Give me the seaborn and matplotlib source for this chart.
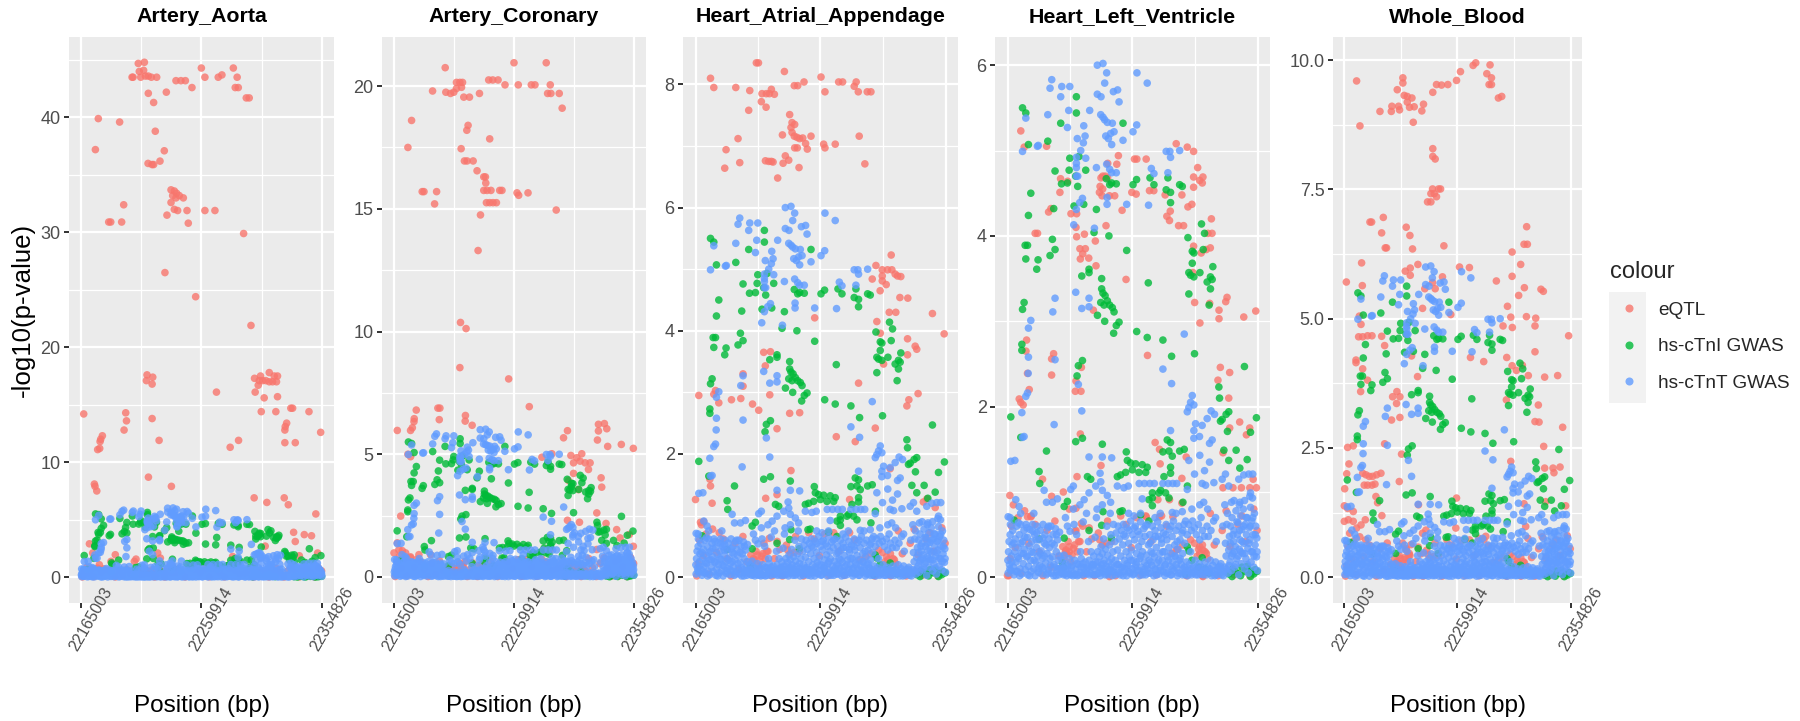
import matplotlib
matplotlib.use("Agg")
import matplotlib.pyplot as plt
from matplotlib.lines import Line2D
from matplotlib.patches import Rectangle
from matplotlib.transforms import ScaledTranslation
import pandas as pd
import seaborn as sns

# position values are kb after the first tick, -log10(p) second
BP_START = 22165003
X_TICKS = [22165003, 22259914, 22354826]
TISSUES = ["Artery_Aorta", "Artery_Coronary", "Heart_Atrial_Appendage", "Heart_Left_Ventricle", "Whole_Blood"]
SOURCES = ["eQTL", "hs-cTnI GWAS", "hs-cTnT GWAS"]
COLOURS = ["#F8766D", "#00BA38", "#619CFF"]

Y_TICKS = [[0, 10, 20, 30, 40], [0, 5, 10, 15, 20], [0, 2, 4, 6, 8], [0, 2, 4, 6], [0, 2.5, 5, 7.5, 10]]
Y_LABELS = [["0", "10", "20", "30", "40"], ["0", "5", "10", "15", "20"], ["0", "2", "4", "6", "8"],
            ["0", "2", "4", "6"], ["0.0", "2.5", "5.0", "7.5", "10.0"]]
Y_MINOR = [[5, 15, 25, 35, 45], [2.5, 7.5, 12.5, 17.5], [1, 3, 5, 7], [1, 3, 5], [1.25, 3.75, 6.25, 8.75]]
Y_LIMITS = [(-2.25, 47.0), (-1.06, 22.0), (-0.42, 8.77), (-0.30, 6.33), (-0.50, 10.45)]

# panels in pixels: left, right (same top and bottom for all)
PANEL_X = [(69, 334), (382, 646), (683, 958), (995, 1270), (1333, 1582)]
PANEL_TOP, PANEL_BOTTOM = 37, 603

# the GWAS hits are the same in every panel, only the y scale changes
CTNT_HIGH = [
    (11.4, 4.99), (13.9, 5.38), (22.7, 5.05), (23.4, 5.06), (30.6, 5.42), (32.3, 5.73), (33.6, 5.83), (40.4, 5.63),
    (41.2, 5.75), (47.3, 5.75), (46.5, 5.47), (45.5, 5.27), (53, 5.14), (58.9, 5.17), (57.9, 5.29), (57.6, 5.09),
    (62.4, 5.47), (68.2, 6.0), (72.5, 6.02), (75.3, 5.91), (73.8, 5.79), (68.2, 5.66), (71, 5.63), (80.4, 5.69),
    (83.6, 5.71), (84.7, 5.57), (70.8, 5.42), (72.5, 5.39), (73.8, 5.36), (75.8, 5.33), (79.6, 5.32), (80.9, 5.22),
    (78.3, 5.2), (74.6, 5.17), (76.6, 5.14), (79.1, 5.07), (87.7, 5.12), (95.3, 5.22), (98.1, 5.3), (98.3, 5.91),
    (106.1, 5.79), (120.5, 4.99), (123.3, 4.99), (123.8, 4.92), (130.7, 5.0), (59.4, 4.91), (52.3, 4.92), (52.3, 4.85),
    (52.3, 4.8), (52.3, 4.7), (53.3, 4.7), (55.6, 5.0), (67.5, 4.8), (75.3, 4.84), (77.6, 4.78), (79.1, 4.74),
    (82.6, 4.74), (109.2, 4.79), (111.2, 4.73), (121.8, 4.74), (90.5, 4.37), (107.1, 4.36), (75.6, 4.45), (75.6, 4.37),
    (56.9, 4.44), (54.8, 4.39), (52.3, 4.31), (50.3, 4.13), (66, 4.09), (17.7, 3.01), (15.9, 2.92), (36.1, 3.27),
    (34.4, 3.11), (51.8, 3.34), (56.4, 3.15), (61.9, 3.27), (61.9, 3.17), (36.1, 2.55), (15.9, 2.58), (15.7, 2.39),
    (15.2, 2.16), (13.9, 2.12), (10.9, 1.93), (35.4, 1.79), (53.8, 2.26), (56.4, 1.95), (134.2, 2.85), (118, 2.44),
    (124.6, 2.27), (12.6, 1.65), (11.4, 1.64), (2.5, 1.36), (5.6, 1.37), (61.9, 1.41), (72, 1.41), (79.1, 1.4),
    (123.8, 1.72), (140.3, 2.13), (139, 2.05), (137.7, 1.99), (136.5, 1.94), (141.5, 2.02), (142.8, 1.8), (141.5, 1.72),
    (141.5, 1.63), (145.8, 1.65), (151.6, 1.86), (154.6, 1.95), (157.2, 1.91), (147.8, 1.78), (155.4, 1.61), (153.4, 1.57),
    (146, 1.43), (153.4, 1.35), (137.7, 1.37), (149.6, 1.25), (142, 1.21), (156.7, 1.11), (147.8, 1.1), (150.4, 1.08),
    (136.5, 1.03), (175.6, 1.15), (179.4, 1.2), (183.2, 1.21), (186.2, 1.21), (163, 1.15), (168, 1.07), (165.5, 1.21),
    (100, 1.1), (104, 1.1), (108, 1.1), (111.5, 1.1), (118, 1.1), (122, 1.1), (125.5, 1.1), (128.5, 1.1),
    (83.4, 1.07), (88.4, 1.05), (91.7, 1.07), (70.3, 1.22), (70.8, 1.12), (67, 1.07), (72, 1.02), (75.8, 0.96),
    (78.3, 0.88), (61.9, 0.99), (58.2, 0.91), (50, 1.07), (48, 1.03), (27.8, 1.02), (29.6, 0.88), (34.1, 0.88),
    (37.9, 0.92), (6.3, 0.91), (8.8, 0.83), (0.5, 0.71), (102.3, 0.92), (125.1, 0.76), (132.7, 0.77), (135.2, 0.66),
    (149, 0.88), (170, 0.88), (176.5, 0.88), (184.5, 0.99), (186, 0.93),
]
CTNT_LOW = [
    (0.5, .05), (0.8, .3), (1.2, .42), (1.5, .15), (2, .5), (2.5, .08), (3, .25), (3.5, .38), (4, .55), (4.5, .12),
    (5, .03), (5.5, .3), (6, .45), (6.5, .18), (7, .6), (7.5, .07), (8, .35), (8.5, .22), (9, .5), (9.5, .1),
    (10, .62), (10.5, .28), (11, .04), (11.5, .42), (12, .16), (12.5, .55), (13, .33), (13.5, .09), (14, .62), (14.5, .24),
    (15, .47), (15.5, .03), (16, .13), (16.5, .37), (17, .56), (17.5, .2), (18, .07), (18.5, .42), (19, .62), (19.5, .29),
    (20, .1), (20.5, .5), (21, .02), (21.5, .18), (22, .35), (22.5, .6), (23, .25), (23.5, .06), (24, .44), (24.5, .14),
    (25, .55), (25.5, .31), (26, .04), (26.5, .22), (27, .62), (27.5, .1), (28, .4), (28.5, .5), (29, .17), (29.5, .03),
    (30, .28), (30.5, .58), (31, .09), (31.5, .45), (32, .35), (32.5, .14), (33, .6), (33.5, .05), (34, .24), (34.5, .5),
    (35, .02), (35.5, .38), (36, .12), (36.5, .57), (37, .3), (37.5, .07), (38, .44), (38.5, .2), (39, .03), (39.5, .53),
    (40, .11), (41, .05), (41.5, .2), (42, .1), (43, .26), (43.5, .04), (44, .16), (45, .02), (45.5, .6), (46, .09),
    (47, .22), (47.5, .54), (48, .03), (49, .14), (50, .05), (50.5, .62), (51, .2), (52, .09), (52.5, .5), (53, .02),
    (54, .15), (55, .06), (55.5, .3), (56, .22), (57, .03), (57.5, .65), (58, .11), (59, .18), (60, .04), (61, .12),
    (61.5, .42), (62, .2), (63, .05), (63.5, .3), (64, .15), (65, .03), (65.5, .25), (66, .1), (66.5, .47), (67, .18),
    (67.5, .7), (68, .04), (68.5, .3), (69, .12), (70, .24), (70.5, .02), (71, .36), (71.5, .15), (72, .28), (72.5, .07),
    (73, .45), (73.5, .2), (74, .03), (74.5, .33), (75, .13), (75.5, .6), (76, .26), (76.5, .05), (77, .18), (77.5, .38),
    (78, .09), (78.5, .5), (79, .22), (79.5, .02), (80, .3), (80.5, .62), (81, .12), (81.5, .42), (82, .2), (82.5, .52),
    (83, .06), (83.5, .32), (84, .6), (84.5, .15), (85, .45), (85.5, .03), (86, .25), (86.5, .55), (87, .12), (87.5, .38),
    (88, .62), (88.5, .07), (89, .2), (89.5, .48), (90, .3), (90.5, .02), (91, .58), (91.5, .14), (92, .4), (92.5, .24),
    (93, .05), (93.5, .66), (94, .32), (94.5, .1), (95, .5), (95.5, .2), (96, .04), (96.5, .44), (97, .6), (97.5, .15),
    (98, .28), (98.5, .08), (99, .54), (99.5, .36), (100, .02), (100.5, .22), (101, .65), (101.5, .12), (102, .42), (102.5, .3),
    (103, .06), (103.5, .57), (104, .18), (104.5, .48), (105, .03), (105.5, .26), (106, .62), (106.5, .1), (107, .38), (107.5, .2),
    (108, .5), (108.5, .05), (109, .3), (109.5, .14), (110, .6), (110.5, .44), (111, .02), (111.5, .24), (112, .55), (112.5, .09),
    (113, .35), (113.5, .17), (114, .65), (114.5, .48), (115, .04), (115.5, .28), (116, .12), (116.5, .58), (117, .4), (117.5, .2),
    (118, .07), (118.5, .52), (119, .3), (119.5, .02), (120, .15), (120.5, .62), (121, .44), (121.5, .24), (122, .06), (122.5, .35),
    (123, .56), (123.5, .13), (124, .28), (124.5, .03), (125, .48), (125.5, .18), (126, .66), (126.5, .08), (127, .38), (127.5, .25),
    (128, .55), (128.5, .11), (129, .02), (129.5, .33), (130, .6), (130.5, .2), (131, .44), (131.5, .05), (132, .15), (132.5, .52),
    (133, .28), (133.5, .1), (134, .62), (134.5, .4), (135, .03), (136, .18), (136.5, .5), (137, .08), (137.5, .62), (138, .15),
    (139, .3), (139.5, .55), (140, .05), (140.5, .66), (141, .12), (142, .58), (142.5, .2), (143, .03), (143.5, .5), (144, .09),
    (145, .62), (145.5, .16), (146, .44), (146.5, .04), (147, .7), (147.5, .12), (148, .55), (149, .07), (149.5, .48), (150, .18),
    (151, .03), (151.5, .6), (152, .12), (152.5, .48), (153, .06), (154, .2), (154.5, .55), (155, .02), (156, .14), (156.5, .66),
    (157, .08), (158, .18), (158.5, .42), (159, .03), (160, .12), (161, .05), (162, .16), (163, .07), (163.5, .6), (164, .02),
    (165, .12), (165.5, .4), (166, .25), (166.5, .62), (167, .75), (167.5, .05), (168, .32), (168.5, .48), (169, .18), (169.5, .6),
    (170, .08), (170.5, .7), (171, .28), (171.5, .42), (172, .55), (172.5, .12), (173, .36), (173.5, .78), (174, .22), (174.5, .5),
    (175, .64), (175.5, .03), (176, .33), (176.5, .44), (177, .72), (177.5, .16), (178, .56), (178.5, .28), (179, .8), (179.5, .4),
    (180, .1), (180.5, .62), (181, .22), (181.5, .5), (182, .7), (182.5, .34), (183, .05), (183.5, .58), (184, .44), (184.5, .82),
    (185, .18), (185.5, .66), (186, .3), (186.5, .5), (187, .12), (187.5, .75), (188, .38), (188.5, .6), (189, .24), (189.3, .46),
    (189.8, .08),
]
CTNT_FILL = [
    (0.3, .2), (1.8, .1), (3.3, .18), (4.8, .4), (6.2, .07), (7.8, .24), (9.2, .02), (10.2, .4), (12.2, .28), (13.2, .47),
    (15.2, .25), (16.8, .02), (18.2, .3), (20.2, .2), (21.8, .44), (23.2, .1), (24.8, .28), (26.2, .12), (27.8, .25), (29.2, .38),
    (30.8, .05), (32.2, .22), (33.8, .4), (35.2, .15), (36.8, .02), (38.2, .1), (39.8, .25), (41.3, .12), (42.6, .03), (44.3, .08),
    (45.8, .14), (46.8, .04), (48.4, .12), (49.6, .02), (51.3, .03), (52.8, .16), (54.4, .03), (55.8, .12), (57.3, .16), (58.8, .05),
    (60.4, .1), (62.4, .03), (63.8, .12), (65.2, .15), (66.8, .03), (68.6, .18), (69.8, .05), (71.2, .1), (72.8, .16), (74.2, .1),
    (75.8, .03), (77.2, .08), (78.8, .14), (80.2, .07), (81.8, .03), (83.2, .15), (84.8, .05), (86.2, .12), (87.8, .02), (89.2, .1),
    (90.8, .16), (92.2, .07), (93.8, .2), (95.2, .03), (96.8, .12), (98.2, .18), (99.8, .08), (101.2, .25), (102.8, .03), (104.2, .1),
    (105.8, .14), (107.2, .05), (108.8, .18), (110.2, .28), (111.8, .1), (113.2, .03), (114.8, .2), (116.2, .08), (117.8, .3), (119.2, .13),
    (120.8, .05), (122.2, .2), (123.8, .03), (125.2, .1), (126.8, .25), (128.2, .15), (129.8, .05), (131.2, .22), (132.8, .03), (134.2, .12),
    (135.5, .08), (136.8, .02), (138.2, .1), (139.8, .03), (141.5, .06), (143.2, .12), (144.6, .03), (146.2, .1), (148.5, .03), (149.8, .1),
    (151.8, .07), (153.4, .1), (155.4, .06), (157.4, .02), (159.4, .09), (161.4, .13), (162.6, .03), (164.4, .07), (166.2, .1), (168.2, .14),
    (169.2, .4), (170.2, .25), (171.2, .5), (172.2, .3), (173.2, .15), (174.2, .65), (175.2, .25), (176.2, .55), (177.2, .3), (178.2, .42),
    (179.2, .6), (180.2, .28), (181.2, .7), (182.2, .15), (183.2, .4), (184.2, .6), (185.2, .3), (186.2, .7), (187.2, .25), (188.2, .5),
    (189.5, .3), (2.2, .62), (8.2, .64), (14.8, .58), (19.2, .54), (22.2, .52), (26.8, .46), (31.2, .6), (37.2, .5), (88.2, .5),
    (92.2, .55), (96.2, .58), (100.2, .5), (104.8, .6), (108.2, .4), (112.2, .48), (116.8, .45), (120.2, .5), (124.2, .6), (128.8, .42),
    (133.2, .55), (68, .8), (72, .85), (78, .75), (44, .7), (50, .8), (55, .85), (60, .75), (92, .75), (96, .72),
    (101, .75), (112, .7), (116, .75), (128, .75), (140, .8), (146, .85), (152, .8), (158, .7), (165, .85), (172, .9),
    (176, .85), (180, .9), (184, .95), (20, .75), (10, .75), (2, .7),
]
CTNI = [
    (11.4, 5.5), (13.9, 5.44), (15.9, 5.07), (30.6, 5.11), (40.4, 5.32), (52.3, 5.63), (52.3, 5.44), (87.7, 5.32),
    (47.3, 4.91), (54.3, 4.93), (36.1, 4.76), (46.8, 4.77), (59.4, 4.77), (41, 4.61), (45.5, 4.62), (53.3, 4.58),
    (51.8, 4.7), (17.7, 4.5), (15.9, 4.24), (35.1, 4.32), (50.5, 4.35), (57.9, 4.37), (67.5, 4.31), (75, 4.67),
    (77.6, 4.6), (79.1, 4.62), (82.6, 4.61), (95.3, 4.6), (98, 4.66), (108.2, 4.68), (111.2, 4.6), (121.8, 4.68),
    (120.5, 4.54), (123.8, 4.51), (123.8, 4.39), (130.7, 4.6), (132.7, 4.58), (147.3, 4.14), (65.7, 4.04), (77, 4.0),
    (149.6, 4.03), (137, 3.98), (13.4, 3.89), (15.2, 3.89), (13.9, 3.73), (23.2, 3.72), (22.2, 3.61), (34.1, 3.96),
    (36.1, 3.84), (32.3, 3.77), (61.9, 3.61), (61.9, 3.57), (56.4, 3.53), (71.5, 3.5), (71.5, 3.38), (72.5, 3.33),
    (74.1, 3.3), (75.8, 3.24), (77.6, 3.19), (79.6, 3.16), (80.9, 3.11), (70.8, 3.22), (73.3, 3.19), (68.3, 3.07),
    (73.8, 3.0), (84.7, 2.99), (82.6, 2.95), (80.6, 2.86), (90.5, 3.83), (106.9, 3.45), (98.1, 2.88), (106.1, 2.81),
    (118, 2.78), (124.6, 2.59), (140.3, 3.82), (141.5, 3.8), (148.6, 3.84), (140.3, 3.68), (137.7, 3.57), (139, 3.54),
    (141.5, 3.52), (146.1, 3.57), (155.9, 3.64), (154.1, 3.52), (151.6, 3.46), (154.1, 3.38), (155.4, 3.49), (137.7, 3.32),
    (153.1, 3.19), (142, 2.62), (179.9, 2.47), (160.5, 2.23), (161, 2.1), (12.6, 3.22), (11.4, 3.14), (10.9, 2.73),
    (10.9, 2.66), (56.9, 2.54), (53.8, 2.48), (52.8, 2.36), (2.5, 1.88), (10.1, 1.64), (29.6, 1.48), (51.8, 1.59),
    (56.9, 1.63), (72, 1.56), (24, 1.24), (24.5, 1.1), (60.7, 1.18), (63.2, 1.15), (90.2, 1.47), (91, 1.37),
    (93.5, 1.34), (97.3, 1.33), (102.3, 1.32), (106.1, 1.29), (94.8, 1.26), (89.7, 1.23), (85.9, 1.2), (83.4, 1.18),
    (99.8, 1.23), (104.9, 1.23), (110, 0.99), (110, 0.93), (107.4, 0.91), (110, 0.84), (121.3, 1.61), (123.8, 1.58),
    (118, 1.47), (122.6, 1.48), (125.1, 1.42), (130.7, 1.48), (134.2, 1.5), (123.8, 1.29), (123.8, 1.22), (118.8, 1.18),
    (116.3, 1.02), (120, 0.99), (122.6, 0.93), (115, 0.99), (161.7, 1.83), (168, 1.94), (166, 1.91), (163, 1.85),
    (189, 1.87), (167, 1.71), (184.5, 1.7), (164.3, 1.49), (173.6, 1.49), (168, 1.37), (182, 1.38), (176.4, 1.28),
    (133.2, 0.88), (136.6, 1.07), (45.5, 0.89), (43, 0.83), (85.4, 0.77), (87.2, 0.78), (72.5, 0.77), (101, 0.73),
    (107.4, 0.66), (5, 0.67), (61.9, 0.55), (71.5, 0.61), (43, 0.46), (78.8, 0.46), (41.7, 0.17), (136.5, 0.36),
    (137.7, 0.31), (147.8, 0.23), (168, 0.04), (173, 0.07), (178, 0.12), (183, 0.09), (188, 0.09), (187, 0.04),
    (170.5, 0.01), (175.6, 0.04), (180.7, 0.07), (184.5, 0.01), (189.5, 0.07), (135.2, 0.04), (145.3, 0.12), (24, 0.45),
    (171, 0.1), (177, 0.02), (182, 0.13), (186, 0.06), (42.5, 0.12), (140, 0.2), (150, 0.1), (153, 0.05),
]
EQTL_LOW = [
    (1, .02), (2, .22), (3, .6), (4.5, .85), (6, .35), (8, .7), (10, .05), (13, .78), (16, .4), (18, .72),
    (21, .62), (24, .3), (27, .02), (30, .55), (33, .12), (36, .66), (39, .25), (42, .36), (44, .3), (46, .42),
    (48, .18), (50, .34), (52, .55), (54, .42), (56, .63), (58, .02), (60, .3), (62, .58), (64, .45), (66, .02),
    (69, .52), (72, .38), (76, .66), (79, .42), (82, .02), (86, .72), (90, .62), (94, .35), (98, .7), (101, .03),
    (105, .72), (109, .42), (113, .03), (117, .72), (121, .6), (125, .28), (129, .33), (133, .38), (136, .02), (139, .44),
    (142, .4), (145, .33), (148, .02), (151, .28), (154, .75), (157, .38), (160, .02), (163, .55), (166, .78), (169, .36),
    (172, .03), (175, .62), (178, .72), (181, .42), (184, .02), (187, .8), (189.5, .55), (43, .22), (45, .28), (47, .36),
    (49, .26), (51, .38), (53, .3), (55, .42), (144, .25), (146, .28), (148, .38), (150, .3), (152, .22), (75, .4), (70, .44),
]

EQTL_AORTA = [
    (45.1, 44.7), (49.9, 44.8), (45.9, 44), (49.3, 44.1), (40.2, 43.5), (41, 43.5), (47, 43.5), (50.7, 43.6), (53, 43.6),
    (55.4, 43.5), (59.6, 43.5), (53, 42.1), (57.2, 41.3), (67.2, 42.2), (74.8, 43.2), (78.7, 43.2), (82.2, 43.2), (87.4, 42.6),
    (94.8, 44.3), (97.6, 43.5), (108.1, 43.5), (111, 43.7), (120, 44.3), (123, 43.5), (121.5, 42.6), (123.9, 42.6), (130.2, 41.7),
    (132.5, 41.7), (13.6, 39.9), (30.4, 39.6), (58.5, 38.8), (11.3, 37.2), (65.6, 37.1), (62.2, 36.2), (52.8, 36), (55.9, 35.9),
    (57.2, 35.9), (70.9, 33.7), (73.5, 33.6), (75.3, 33.4), (77.4, 33.2), (80.6, 33), (72.2, 33.2), (74.8, 33), (70.9, 32.6),
    (33.6, 32.4), (73.5, 32), (76.1, 31.9), (83.5, 31.9), (97.6, 31.9), (105.5, 31.9), (67.7, 31.5), (84.5, 30.8), (21.8, 30.9),
    (23.4, 30.9), (32, 30.9), (128.1, 29.9), (66.1, 26.5), (90.3, 24.4), (133.9, 21.9), (52, 17.6), (56.5, 17.4), (51.5, 17.1),
    (56, 16.8), (106.7, 16.1), (141.4, 17.5), (136.7, 17.3), (148.3, 17.8), (154.8, 17.5), (152.2, 17.5), (140.4, 17.1), (143, 17.1),
    (145.6, 17.1), (148.3, 17), (150.9, 17), (154, 17), (139.6, 16.7), (137.2, 16.1), (144.3, 15.6), (154.8, 15.7), (166.7, 14.7),
    (165.3, 14.7), (179.6, 14.4), (142, 14.4), (153.5, 14.4), (2.1, 14.2), (35.2, 14.3), (35.8, 13.6), (33.9, 12.8), (56, 13.8),
    (16.8, 12.3), (15.5, 12), (15, 11.8), (14.7, 11.2), (13.1, 11.1), (61.5, 11.9), (124.1, 11.9), (117.5, 11.3), (162, 13.4),
    (160.9, 13.1), (160.6, 12.8), (160.6, 11.7), (168.8, 11.7), (188.8, 12.6), (10.5, 8.1), (11, 7.9), (12.4, 7.5), (53.1, 8.7),
    (71.2, 7.9), (136.4, 6.9), (146.4, 6.5), (160.1, 6.9), (163.3, 6.3), (185, 5.5), (167.5, 3.9), (175.9, 3.7), (181.6, 3.6),
    (168.8, 3.1), (145.1, 2.7), (6.6, 2.9), (9.2, 2.1), (27, 1.95), (186.4, 2.1), (60.4, 2.1), (62.5, 1.66), (43.3, 1.57),
    (172, 1.86), (119.4, 1.8), (14.4, 1.08), (23.6, 1.37), (42, 1.37),
]
EQTL_CORONARY = [
    (40.5, 20.75), (94.9, 20.95), (120.4, 20.95), (30.5, 19.8), (41, 19.75), (44.7, 19.7), (47.3, 19.75), (49.4, 20.15), (52.1, 20.15),
    (54.2, 20.15), (49.4, 19.9), (53.4, 19.95), (55.2, 19.55), (59.7, 19.55), (67.6, 19.7), (74.9, 20.25), (78.1, 20.25), (82.3, 20.25),
    (87.8, 20.05), (98.3, 20.05), (108.6, 20.05), (111.5, 20.05), (123.6, 20.05), (121.5, 19.7), (124.1, 19.7), (130.7, 19.7), (133, 19.1),
    (13.9, 18.6), (58.6, 18.4), (57.6, 18.2), (75.7, 17.85), (11, 17.5), (53.1, 17.45), (55.7, 16.95), (57.8, 16.95), (62.6, 16.95),
    (65.7, 16.55), (71, 16.3), (72.3, 16.3), (72.6, 16.05), (22.3, 15.7), (23.7, 15.7), (33.7, 15.7), (71, 15.75), (73.6, 15.75),
    (76.7, 15.75), (83.6, 15.75), (85.4, 15.75), (97.3, 15.65), (98.6, 15.55), (106, 15.65), (32.1, 15.2), (73.1, 15.25), (75.7, 15.25),
    (78.3, 15.25), (81, 15.25), (128.3, 14.95), (68.4, 14.75), (66.5, 13.3), (52.6, 10.37), (57, 10.12), (52.1, 8.53), (90.7, 8.07),
    (17.6, 6.8), (34.7, 6.88), (36.3, 6.88), (107, 6.94), (16, 6.45), (15.8, 6.33), (35.8, 6.41), (56.5, 6.58), (56.3, 6.35),
    (61.8, 6.18), (2.6, 5.97), (14.5, 6.08), (13.1, 5.97), (137.2, 5.96), (134.1, 5.67), (117, 4.88), (124.9, 5.02), (161.7, 6.22),
    (166.4, 6.25), (168.3, 6.04), (161.7, 5.95), (160.9, 5.58), (169, 5.32), (179.8, 5.4), (189.3, 5.24), (11, 5), (13.1, 4.9),
    (139.9, 4.95), (148.5, 5.02), (144.6, 4.86), (142, 4.65), (147.2, 4.72), (151.2, 4.65), (155.1, 4.65), (153.8, 4.38), (142, 4.22),
    (163.8, 4.04), (164.3, 3.66), (138, 3.93), (145.9, 3.56), (5.3, 2.48), (160.4, 2.61), (137.2, 2.31), (146.7, 2.23), (167.7, 2.18),
    (176.1, 1.93), (186.1, 1.73), (178.8, 1.59), (2.6, 1.39), (0, 0.98), (3.9, 1.11), (6.6, 1.07), (9.2, 0.98), (13.1, 0.82),
    (19.7, 0.91), (28.9, 0.91), (189.3, 1.25), (160.4, 1.12), (118.3, 1.12), (123.6, 1.12),
]
EQTL_ATRIAL = [
    (46.2, 8.35), (47.8, 8.35), (11.4, 8.1), (13.9, 7.95), (30.6, 7.95), (41.2, 7.9), (50.5, 7.85), (53.8, 7.85), (56.1, 7.85), (57.6, 7.92),
    (59.9, 7.84), (67.5, 8.21), (75, 7.98), (77.6, 7.98), (82.4, 8.04), (95.3, 8.12), (98.3, 7.88), (108.7, 8.04), (111.7, 8.04), (122, 8.04),
    (120.5, 7.97), (123.6, 7.88), (130.4, 7.88), (133.2, 7.88), (50, 7.72), (53.6, 7.63), (40.4, 7.58), (71.5, 7.51), (73.3, 7.38), (75.3, 7.35),
    (72.5, 7.3), (73.3, 7.22), (75, 7.16), (77.1, 7.14), (79.1, 7.12), (81.4, 7.13), (66, 7.18), (87.7, 7.16), (124.3, 7.16), (32.3, 7.12),
    (83.6, 7.04), (84.9, 6.95), (75.3, 6.97), (77.3, 6.97), (97.3, 7.03), (98.3, 6.97), (106.1, 7.03), (23.2, 6.94), (68.2, 6.84), (70.8, 6.77),
    (66.5, 6.72), (53.1, 6.76), (55.6, 6.75), (57.6, 6.75), (58.9, 6.74), (33.6, 6.73), (22.2, 6.64), (78.6, 6.65), (128.6, 6.71), (62.4, 6.48),
    (137, 5.06), (148.6, 5.23), (141.8, 4.99), (145.8, 4.99), (149.1, 4.99), (151.6, 4.92), (153.4, 4.89), (155.9, 4.88), (134.2, 4.84), (141.8, 4.89),
    (141.8, 4.81), (144.8, 4.75), (140.2, 4.65), (155.2, 4.54), (161.2, 4.53), (147.1, 4.3), (152.1, 4.3), (179.9, 4.28), (137.7, 4.15), (90.5, 4.21),
    (188.8, 3.95), (140.3, 3.96), (161, 3.87), (166.8, 3.75), (168, 3.7), (161, 3.61), (142.8, 3.46), (123.8, 3.15), (51.8, 3.65), (56.9, 3.66),
    (53, 3.43), (36.1, 3.3), (36.1, 3.1), (2.5, 2.95), (15.2, 3.03), (13.9, 2.97), (17.7, 2.83), (27.3, 2.88), (34.4, 2.9), (43.3, 2.81),
    (48, 2.71), (56.4, 2.96), (71.5, 2.66), (79.1, 2.67), (61.9, 2.41), (169, 2.98), (162, 2.88), (160.5, 2.78), (106.9, 2.28), (136.5, 2.42),
    (121.3, 2.2), (147.8, 1.76), (72.5, 1.73), (10.9, 1.59), (11.4, 1.48), (61.9, 1.34), (53.3, 1.28), (0, 1.26), (12.6, 1.2), (175.7, 1.27),
    (173, 1.22), (182, 1.13), (117, 1.26), (3.8, 0.89), (6.3, 0.9),
]
EQTL_LV = [
    (10.1, 5.23), (12.7, 5.04), (29.7, 5.05), (128.1, 5.08), (136.5, 5.04), (141.3, 4.99), (84.2, 4.94), (96.4, 4.9), (98.2, 4.9), (105.3, 4.9),
    (76.1, 4.85), (83, 4.84), (144.4, 4.8), (141.3, 4.69), (148.4, 4.69), (145.9, 4.65), (147.9, 4.62), (141.3, 4.57), (40.3, 4.67), (45.7, 4.64),
    (39.8, 4.51), (72.3, 4.7), (74.3, 4.7), (71, 4.68), (76, 4.68), (70.3, 4.58), (72.3, 4.55), (69.8, 4.51), (71.8, 4.47), (77.4, 4.47),
    (81.4, 4.47), (94.4, 4.51), (97.7, 4.49), (107.8, 4.53), (111.1, 4.53), (119.7, 4.48), (132.4, 4.48), (137, 4.34), (140, 4.37), (31.2, 4.28),
    (33, 4.32), (48.2, 4.26), (52.5, 4.26), (87, 4.3), (123.6, 4.29), (121, 4.23), (123, 4.18), (154.8, 4.2), (129.9, 4.12), (133.7, 4.12),
    (52, 4.1), (74.8, 4.12), (21, 4.03), (22.8, 4.03), (58.4, 4.02), (52.5, 3.99), (66.7, 3.94), (152.2, 4.03), (155.3, 4.03), (141.3, 3.88),
    (154, 3.86), (150.9, 3.84), (147.1, 3.8), (55, 3.85), (59.1, 3.85), (57.1, 3.79), (55.3, 3.73), (61.7, 3.74), (67.2, 3.65), (90, 3.49),
    (140.8, 3.57), (166.7, 3.28), (165.7, 3.23), (142.1, 3.22), (153.5, 3.21), (65.2, 3.13), (160.6, 3.13), (188.5, 3.12), (179.4, 3.05), (160.6, 3.03),
    (146.1, 2.98), (14.5, 2.78), (14, 2.65), (106.3, 2.6), (35, 2.62), (33.5, 2.56), (33.5, 2.37), (56.1, 2.46), (15.2, 2.39), (161.6, 2.46),
    (168.7, 2.4), (159.8, 2.31), (51.5, 2.18), (55.8, 2.18), (52, 2.3), (16.5, 2.2), (8.9, 2.09), (10.1, 2.05), (11.9, 2.02), (168, 2.1),
    (176.3, 1.82), (183.9, 1.75), (181.4, 1.67), (168.7, 1.75), (55.3, 1.68), (112.1, 1.58), (115.4, 1.5), (163.6, 1.46), (135.7, 1.41), (71, 1.31),
    (52.8, 1.18), (26.6, 1.15), (132.4, 1.16), (115.9, 1.33), (186.5, 1.15), (163.6, 1.05), (171.2, 1.05), (177.6, 1.05), (184, 1.05), (189, 1.05),
    (1.8, 0.96), (33.5, 0.95), (42.4, 1), (114.2, 0.91), (123, 0.91), (132.4, 0.87), (52, 0.81), (46.9, 0.8), (15.2, 0.71), (17.8, 0.71),
    (105.3, 0.71), (115.4, 0.71), (125.6, 0.71), (57.1, 0.6), (51.5, 0.54), (145.9, 0.36), (148.4, 0.32), (128.1, 0.32), (44.4, 0.32), (46.9, 0.3),
    (148.4, 0.01), (77.4, 0.01), (0, 0.02),
]
EQTL_BLOOD = [
    (10.3, 9.6), (13.1, 8.73), (49.1, 9.66), (49.1, 9.56), (44.4, 9.43), (50.2, 9.32), (52.8, 9.3), (56.7, 9.27), (52.8, 9.19), (39.9, 9.11),
    (45.5, 9.11), (66.4, 9.15), (54.7, 9.09), (58.6, 9.1), (29.9, 9.01), (39.4, 9.01), (46.3, 9.04), (65, 9.02), (57.8, 8.8), (74.2, 9.38),
    (77.3, 9.53), (81.5, 9.52), (86.8, 9.53), (94.1, 9.61), (97.4, 9.78), (108, 9.9), (110.2, 9.95), (122.2, 9.91), (119.5, 9.74), (123.4, 9.66),
    (121.4, 9.53), (123.4, 9.53), (129.2, 9.27), (132, 9.3), (74.2, 8.29), (74.2, 8.14), (76.2, 8.09), (74, 7.51), (79, 7.51), (80.7, 7.51),
    (72.6, 7.42), (75.4, 7.42), (77.3, 7.36), (69.8, 7.26), (72.6, 7.26), (21.5, 6.87), (22.9, 6.87), (32.7, 6.96), (31.3, 6.66), (51.9, 6.77),
    (55, 6.61), (34.3, 6.37), (35.4, 6.37), (57.2, 6.35), (83.5, 6.41), (152.9, 6.78), (150.7, 6.44), (153.5, 6.44), (140.7, 6.29), (14.5, 6.08),
    (147.9, 6.05), (61.7, 6.05), (55.3, 5.98), (51.1, 5.92), (55.3, 5.84), (82.3, 5.81), (96.6, 6), (104.9, 5.99), (140.7, 5.82), (127.5, 5.73),
    (1.7, 5.71), (15.1, 5.64), (151, 5.6), (164.9, 5.57), (166.9, 5.53), (146.2, 5.45), (136.8, 5.24), (74, 5.7), (67.5, 5.58), (76.2, 5.58),
    (65.6, 5.2), (89.3, 5.08), (139.6, 5.03), (152.7, 5.04), (160.5, 5.01), (12.6, 5.05), (12, 4.65), (15.4, 4.65), (19.5, 4.67), (23.2, 4.67),
    (31.3, 4.66), (33.8, 4.48), (188.1, 4.67), (9.8, 4.2), (9.8, 4.15), (15.4, 4.03), (14, 4.89), (136.2, 4.25), (159.9, 4.36), (140.9, 4.83),
    (133.1, 4.86), (159.9, 4.86), (105.8, 4.25), (116.9, 4.17), (140.7, 4.09), (144.3, 4), (149.3, 4.1), (154.3, 3.9), (168, 3.87), (178.9, 3.9),
    (61.4, 3.88), (56.4, 4.28), (19.5, 3.81), (13.7, 3.59), (44.1, 3.59), (40.5, 3.49), (46.6, 3.49), (43.8, 3.36), (39.6, 3.04), (46.6, 3.09),
    (162.7, 3.33), (159.9, 3.01), (163.3, 3), (183.1, 2.9), (135.9, 3.43), (2.8, 2.51), (7.5, 2.54), (33.8, 2.58), (167.2, 2.53), (48, 2.38),
    (3.9, 2.19), (139.6, 2.24), (168, 2.11), (180.9, 2.13), (175, 2.11), (175.8, 2.02), (2, 2), (0.3, 1.71), (15.4, 2.01), (18.1, 1.98),
    (20.9, 1.95), (23.7, 1.95), (27.1, 1.98), (30.7, 2.01), (16.7, 1.78), (19.5, 1.78), (23.2, 1.78), (25.7, 1.8), (46.1, 1.85), (26.5, 1.56),
    (27.9, 1.44), (0, 1.38), (2.8, 1.33), (7.5, 1.27), (0, 1.08), (3.4, 1.11), (7.5, 1.08), (10.3, 0.95), (14, 1.01), (17.6, 1.11),
    (31.5, 1.19), (62.2, 1.4), (94.1, 1.53), (150.7, 1.42), (185.6, 1.38), (168.9, 1.46), (65.6, 0.85), (68.4, 0.91), (93.5, 0.95), (113, 0.75),
    (118.6, 0.79), (152.1, 0.98), (51.6, 0.53), (54.4, 0.46), (48.8, 0.66),
]
EQTL_PANELS = [EQTL_AORTA, EQTL_CORONARY, EQTL_ATRIAL, EQTL_LV, EQTL_BLOOD]


def panel_table(eqtl_points):
    parts = [(SOURCES[0], eqtl_points + EQTL_LOW), (SOURCES[1], CTNI), (SOURCES[2], CTNT_HIGH + CTNT_LOW + CTNT_FILL)]
    frames = []
    for source, points in parts:
        part = pd.DataFrame(points, columns=["kb", "logp"])
        part["position"] = BP_START + part["kb"] * 1000
        part["source"] = source
        frames.append(part)
    return pd.concat(frames, ignore_index=True)


sns.set_theme(style="darkgrid", rc={"axes.facecolor": "#EBEBEB", "grid.color": "white", "axes.edgecolor": "none"})
plt.rcParams["font.family"] = ["Liberation Sans", "DejaVu Sans"]

W, H = 1800, 721
fig = plt.figure(figsize=(W / 100, H / 100), dpi=100)
palette = dict(zip(SOURCES, COLOURS))

x_span = X_TICKS[-1] - X_TICKS[0]
x_minor = [(X_TICKS[0] + X_TICKS[1]) / 2, (X_TICKS[1] + X_TICKS[2]) / 2]

for i, tissue in enumerate(TISSUES):
    left, right = PANEL_X[i]
    ax = fig.add_axes([left / W, 1 - PANEL_BOTTOM / H, (right - left) / W, (PANEL_BOTTOM - PANEL_TOP) / H])
    sns.scatterplot(data=panel_table(EQTL_PANELS[i]), x="position", y="logp", hue="source", hue_order=SOURCES,
                    palette=palette, s=30, alpha=0.8, linewidth=0, legend=False, ax=ax, zorder=3)

    ax.set_xlim(X_TICKS[0] - 0.05 * x_span, X_TICKS[-1] + 0.05 * x_span)
    ax.set_ylim(*Y_LIMITS[i])
    ax.set_xticks(X_TICKS)
    ax.set_xticklabels([str(t) for t in X_TICKS])
    ax.set_xticks(x_minor, minor=True)
    ax.set_yticks(Y_TICKS[i])
    ax.set_yticklabels(Y_LABELS[i])
    ax.set_yticks(Y_MINOR[i], minor=True)

    ax.grid(True, which="major", color="white", linewidth=1.6)
    ax.grid(True, which="minor", color="white", linewidth=0.9)
    ax.set_axisbelow(True)
    ax.tick_params(axis="both", which="major", length=3.5, width=1.3, color="#222222", labelcolor="#4D4D4D",
                   bottom=True, left=True, labelsize=13, pad=2.5)
    ax.tick_params(axis="x", which="major", labelsize=11.5)
    ax.tick_params(axis="both", which="minor", length=0)
    # the rotated labels start above the panel edge, as in the original
    for label in ax.get_xticklabels():
        label.set_rotation(60)
        label.set_ha("center")
        label.set_va("top")
        label.set_transform(label.get_transform() + ScaledTranslation(10 / 100, 27 / 100, fig.dpi_scale_trans))

    ax.set_title(tissue, fontsize=15.4, fontweight="bold", color="black", pad=11)
    ax.set_xlabel("Position (bp)", fontsize=17.5, color="black")
    ax.xaxis.set_label_coords(0.5, -0.162)
    if i == 0:
        ax.set_ylabel("-log10(p-value)", fontsize=18.6, color="black")
        ax.yaxis.set_label_coords(-0.128, 0.518)
    else:
        ax.set_ylabel("")

# legend with the grey key column
fig.add_artist(Rectangle((1609 / W, 1 - 403 / H), 37 / W, 111 / H, transform=fig.transFigure,
                         facecolor="#F2F2F2", edgecolor="none"))
handles = [Line2D([], [], linestyle="", marker="o", markersize=5.8, markeredgewidth=0, color=c, alpha=0.8, label=s)
           for s, c in zip(SOURCES, COLOURS)]
fig.legend(handles=handles, title="colour", loc="upper left", bbox_to_anchor=(1602 / W, 1 - 253 / H), frameon=False,
           fontsize=13.7, title_fontsize=17, alignment="left", labelspacing=1.0, handletextpad=0.5, handlelength=2.05,
           borderaxespad=0, borderpad=0.4)

fig.savefig("out.png", dpi=100)
